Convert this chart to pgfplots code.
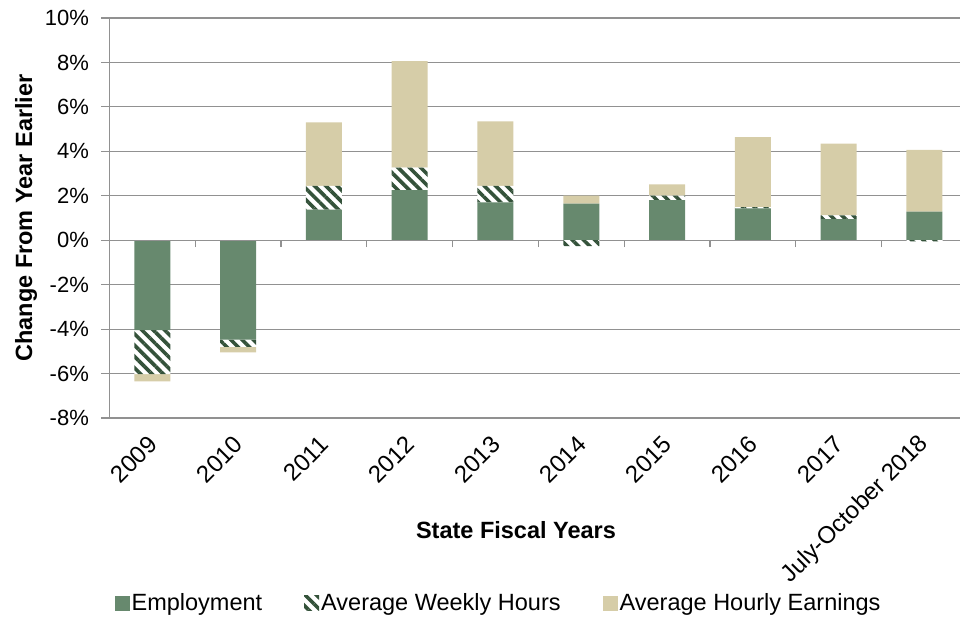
\documentclass[border=0pt]{standalone}
\usepackage{fontspec}
\setmainfont{Liberation Sans}
\usepackage{pgfplots}
\pgfplotsset{compat=1.18}
\usetikzlibrary{patterns.meta}

\definecolor{empgreen}{RGB}{103,137,110}
\definecolor{hatchgreen}{RGB}{52,82,58}
\definecolor{earntan}{RGB}{214,205,168}
\definecolor{gridgray}{RGB}{145,145,145}

\tikzset{hours/.style={fill=white, draw=none,
  postaction={pattern={Lines[angle=-45,distance=8pt,line width=3.6pt]}, pattern color=hatchgreen}}}

\begin{document}
\begin{tikzpicture}
\begin{axis}[
    name=main,
    scale only axis,
    width=850.6pt, height=400pt,
    xmin=0.5, xmax=10.414,
    ymin=-8, ymax=10,
    ybar stacked,
    bar width=36pt,
    axis x line*=bottom,
    axis y line*=left,
    x axis line style={draw=gridgray, line width=1.2pt},
    y axis line style={draw=gridgray, line width=1.4pt},
    xtick={1,...,10},
    xticklabels={2009,2010,2011,2012,2013,2014,2015,2016,2017,July-October 2018},
    x tick style={draw=none},
    xticklabel style={xshift=2pt, yshift=-21pt, rotate=45, anchor=east, font=\fontsize{24}{28}\selectfont, inner sep=2pt},
    ytick={-8,-6,-4,-2,0,2,4,6,8,10},
    yticklabels={-8\%,-6\%,-4\%,-2\%,0\%,2\%,4\%,6\%,8\%,10\%},
    y tick style={draw=gridgray, line width=1.2pt},
    ytick align=outside,
    major tick length=8pt,
    yticklabel style={font=\fontsize{22}{26}\selectfont, xshift=-9pt},
    ymajorgrids,
    grid style={draw=gridgray, line width=1.2pt},
    xlabel={\bfseries State Fiscal Years},
    xlabel style={at={(axis description cs:0.478,-0.28)}, anchor=center, font=\fontsize{23.5}{28}\selectfont},
    ylabel={\bfseries Change From Year Earlier},
    ylabel style={at={(axis description cs:-0.098,0.5)}, anchor=center, rotate=0, font=\fontsize{23.5}{28}\selectfont},
    legend columns=-1,
    legend style={draw=none, at={(0.4575,-0.4625)}, anchor=center,
      font=\fontsize{23.5}{28}\selectfont,
      /tikz/every even column/.append style={column sep=40pt}},
    legend image code/.code={\path[#1] (0pt,-7.5pt) rectangle (15pt,7.5pt);},
]
\addplot[fill=empgreen, draw=none] coordinates {
  (1,-4.05) (2,-4.47) (3,1.38) (4,2.25) (5,1.70)
  (6,1.65) (7,1.80) (8,1.43) (9,0.95) (10,1.29)};
\addplot[hours] coordinates {
  (1,-1.98) (2,-0.33) (3,1.07) (4,1.02) (5,0.75)
  (6,0) (7,0.21) (8,0.06) (9,0.17) (10,0)};
\addplot[fill=earntan, draw=none] coordinates {
  (1,-0.32) (2,-0.25) (3,2.85) (4,4.79) (5,2.90)
  (6,0.36) (7,0.50) (8,3.15) (9,3.23) (10,2.78)};
\legend{Employment, Average Weekly Hours, Average Hourly Earnings}
\end{axis}

% negative weekly hours where the other parts are positive
\begin{axis}[
    scale only axis,
    width=850.6pt, height=400pt,
    xmin=0.5, xmax=10.414,
    ymin=-8, ymax=10,
    ybar, bar width=36pt, bar shift=0pt,
    axis y line=none,
    axis x line=middle,
    x axis line style={draw=gridgray, line width=1.2pt, -},
    xtick={1.5,2.5,...,9.5},
    xticklabels={},
    x tick style={draw=gridgray, line width=1.2pt},
    xtick align=outside,
    major tick length=7pt,
]
\addplot[hours] coordinates {(6,-0.27) (10,-0.05)};
\end{axis}

\pgfresetboundingbox
\path[use as bounding box] ([shift={(-109.4pt,-200pt)}]main.south west)
  rectangle ([shift={(850.6pt,418pt)}]main.south west);
\end{tikzpicture}
\end{document}
